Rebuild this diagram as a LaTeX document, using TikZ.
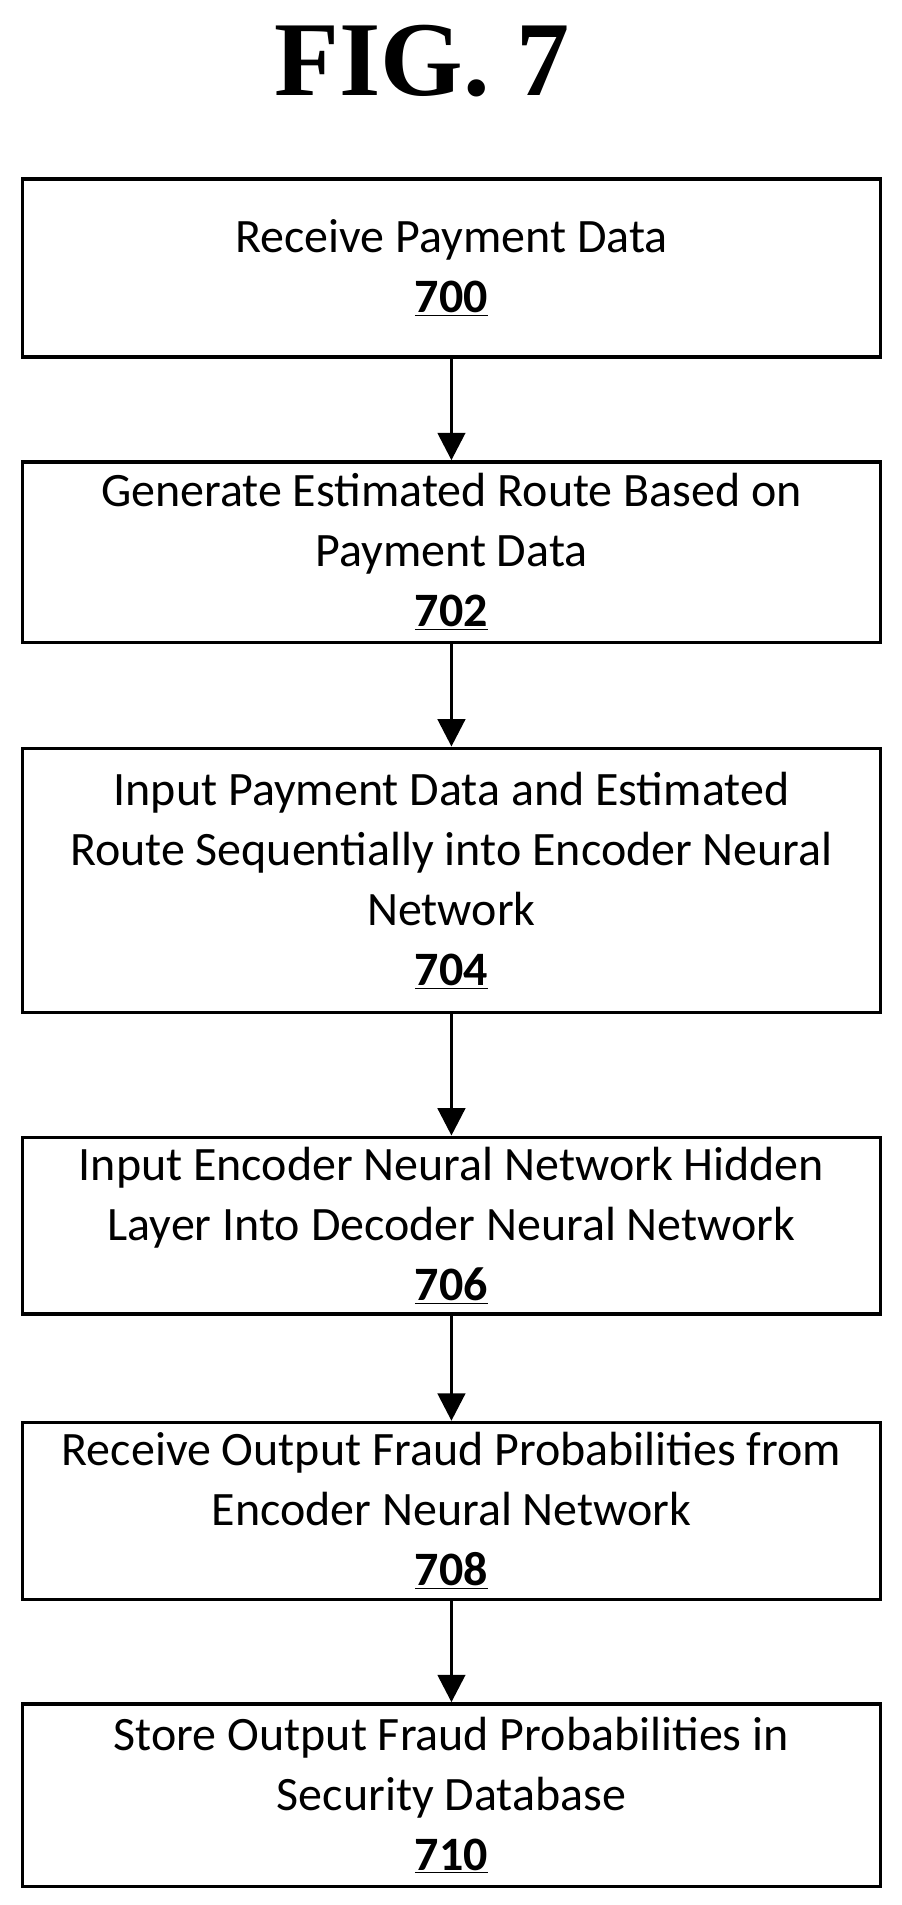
\documentclass[tikz,border=0pt]{standalone}
\usepackage{fontspec}
\setmainfont{Carlito}
\newfontfamily\figfont{Liberation Serif}
\usetikzlibrary{arrows.meta}
\tikzset{
  stage/.style={draw, line width=2pt, minimum width=17.6cm, align=center,
    font=\fontsize{28}{35}\selectfont, inner sep=0pt},
  flow/.style={line width=2pt, -{Triangle[length=16pt, width=16pt]}}
}
\newcommand{\stepnum}[1]{\textbf{\underline{#1}}}
\begin{document}
\begin{tikzpicture}
\useasboundingbox (0,0) rectangle (18.5,-39.075);
\node[font=\figfont\bfseries\fontsize{62}{70}\selectfont] (title) at (8.65,-1.25) {FIG. 7};
\node[stage, minimum height=3.65cm] (s700) at (9.26,-5.5) {Receive Payment Data\\\stepnum{700}};
\node[stage, minimum height=3.7cm] (s702) at (9.26,-11.325) {Generate Estimated Route Based on\\Payment Data\\\stepnum{702}};
\node[stage, minimum height=5.425cm] (s704) at (9.26,-18.06) {Input Payment Data and Estimated\\Route Sequentially into Encoder Neural\\Network\\\stepnum{704}};
\node[stage, minimum height=3.625cm] (s706) at (9.26,-25.14) {Input Encoder Neural Network Hidden\\Layer Into Decoder Neural Network\\\stepnum{706}};
\node[stage, minimum height=3.625cm] (s708) at (9.26,-30.99) {Receive Output Fraud Probabilities from\\Encoder Neural Network\\\stepnum{708}};
\node[stage, minimum height=3.75cm] (s710) at (9.26,-36.825) {Store Output Fraud Probabilities in\\Security Database\\\stepnum{710}};
\draw[flow] (s700)--(s702);
\draw[flow] (s702)--(s704);
\draw[flow] (s704)--(s706);
\draw[flow] (s706)--(s708);
\draw[flow] (s708)--(s710);
\end{tikzpicture}
\end{document}
